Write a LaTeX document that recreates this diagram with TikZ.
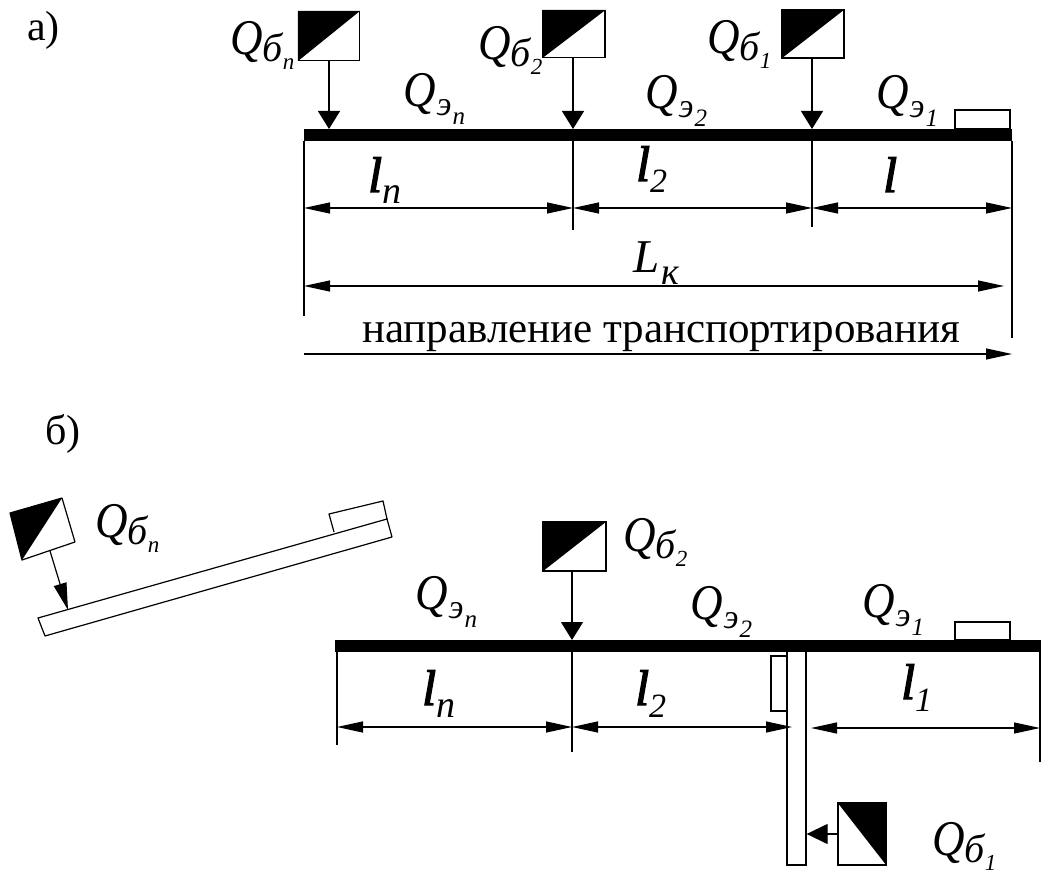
\documentclass[tikz,border=0pt]{standalone}
\usepackage{fontspec}
\setmainfont{Liberation Serif}
\usetikzlibrary{arrows.meta,calc}
\newcommand{\fsz}[1]{\fontsize{#1}{#1}\selectfont}
% big Q with subscript and second-level index
\newcommand{\QG}{\scalebox{0.9}[1]{\fsz{50}Q}}
\newcommand{\QB}[1]{\itshape\QG\raisebox{-7pt}{\fsz{40}б}\raisebox{-15pt}{\fsz{23}#1}}
\newcommand{\QE}[1]{\itshape\QG\kern1pt\raisebox{-9pt}{\fsz{34}э}\kern1pt\raisebox{-18pt}{\fsz{25}#1}}
\newcommand{\LL}[2]{\itshape{\fsz{50}\addfontfeature{FakeBold=2.5}l}\raisebox{-12pt}{\fsz{#2}#1}}
\tikzset{
  lbl/.style={inner sep=0pt,anchor=base west,text=black},
  ln/.style={draw=black,line width=1.3pt},
  dim/.style={draw=black,line width=1.2pt,{Triangle[length=26pt,width=11pt]}-{Triangle[length=26pt,width=11pt]}},
  dimr/.style={draw=black,line width=1.2pt,-{Triangle[length=26pt,width=11pt]}},
  load/.style={draw=black,line width=1.3pt,-{Triangle[length=18pt,width=22pt]}},
  barb/.style={fill=black,draw=none,inner sep=0pt,minimum height=12pt},
  box/.style={draw=black,line width=1.3pt,fill=white,inner sep=0pt},
  tilt/.style={draw=black,line width=1.2pt,fill=white,line join=round},
}
\begin{document}
\begin{tikzpicture}[x=1pt,y=-1pt]
\useasboundingbox (0,0) rectangle (1063,874);
\fill[white] (0,0) rectangle (1063,874);

% ---------- a)
\node[lbl] (capA) at (27,41) {\fsz{42}а)};
\node[barb,minimum width=708pt] (barA) at (658,135) {};
\node[box,minimum width=55pt,minimum height=19pt] (smallA) at (982.5,119.5) {};

\node[box,minimum width=61pt,minimum height=49pt] (an) at (329,36) {};
\node[box,minimum width=62pt,minimum height=47pt] (a2) at (574,34) {};
\node[box,minimum width=62pt,minimum height=48pt] (a1) at (813,34) {};
\fill[black] (an.north west) -- (an.north east) -- (an.south west) -- cycle;
\fill[black] (a2.north west) -- (a2.north east) -- (a2.south west) -- cycle;
\fill[black] (a1.north west) -- (a1.north east) -- (a1.south west) -- cycle;

\coordinate (ant) at (329,129);
\coordinate (a2t) at (573,129);
\coordinate (a1t) at (812,129);
\draw[load] (an.south -| ant) -- (ant);
\draw[load] (a2.south -| a2t) -- (a2t);
\draw[load] (a1.south -| a1t) -- (a1t);

\coordinate (aL0) at (304,141); \coordinate (aL1) at (304,316);
\coordinate (aR0) at (1012,141); \coordinate (aR1) at (1012,338);
\coordinate (a2e) at (573,230); \coordinate (a1e) at (812,227);
\draw[ln] (aL0) -- (aL1);
\draw[ln] (aR0) -- (aR1);
\draw[ln] (a2t) -- (a2e);
\draw[ln] (a1t) -- (a1e);

\coordinate (d0) at (304,208); \coordinate (d1) at (573,208);
\coordinate (d2) at (812,208); \coordinate (d3) at (1012,208);
\draw[dim] (d0) -- (d1);
\draw[dim] (d1) -- (d2);
\draw[dim] (d2) -- (d3);
\coordinate (k0) at (304,286); \coordinate (k1) at (1004,286);
\draw[dim] (k0) -- (k1);
\coordinate (t0) at (304,354); \coordinate (t1) at (1012,354);
\draw[dimr] (t0) -- (t1);

\node[lbl] (qbn) at (230,55) {\QB{n}};
\node[lbl] (qb2) at (478,60) {\QB{2}};
\node[lbl] (qb1) at (707,54) {\QB{1}};
\node[lbl] (qen) at (403,107) {\QE{n}};
\node[lbl] (qe2) at (645,109) {\QE{2}};
\node[lbl] (qe1) at (876,109) {\QE{1}};
\node[lbl] (ln) at (368,192) {\LL{n}{38}};
\node[lbl] (l2) at (636,181) {\LL{2}{34}};
\node[lbl] (l1) at (883,192) {\LL{}{34}};
\node[lbl] (lk) at (633,273) {\itshape\fsz{47}L\kern2pt\raisebox{-12pt}{\fsz{38}к}};
\node[lbl] (dir) at (362,343) {\fsz{43}направление транспортирования};

% ---------- b)
\node[lbl] (capB) at (45,445) {\fsz{42}б)};
\node[barb,minimum width=706pt] (barB) at (688,645.5) {};
\node[box,minimum width=55pt,minimum height=18pt] (smallB) at (982.5,631) {};
\node[box,minimum width=63pt,minimum height=49pt] (b2) at (574.5,546.5) {};
\fill[black] (b2.north west) -- (b2.north east) -- (b2.south west) -- cycle;
\coordinate (b2t) at (572,640);
\draw[load] (b2.south -| b2t) -- (b2t);
\coordinate (b2e) at (572,752);
\draw[ln] (b2t) -- (b2e);
\coordinate (bL0) at (337,651); \coordinate (bL1) at (337,745);
\coordinate (bR0) at (1040,651); \coordinate (bR1) at (1040,762);
\draw[ln] (bL0) -- (bL1);
\draw[ln] (bR0) -- (bR1);

% vertical (folded) conveyor
\node[box,minimum width=19pt,minimum height=214pt] (vbar) at (796.5,758) {};
\node[box,minimum width=16pt,minimum height=55pt] (vsmall) at (779,683.5) {};
\node[box,minimum width=48pt,minimum height=62pt] (b1) at (862,834) {};
\fill[black] (b1.north west) -- (b1.north east) -- (b1.south east) -- cycle;
\draw[load,-{Triangle[length=21pt,width=20pt]}] (b1.west) -- (b1.west -| vbar.east);

\coordinate (e0) at (337,727); \coordinate (e1) at (572,727);
\coordinate (e2) at (792,727); \coordinate (e3) at (811,728); \coordinate (e4) at (1040,728);
\draw[dim] (e0) -- (e1);
\draw[dim] (e1) -- (e2);
\draw[dim] (e3) -- (e4);

% tilted conveyor
\coordinate (p1) at (38,618); \coordinate (p2) at (387,519);
\coordinate (p3) at (392,537); \coordinate (p4) at (45,636);
\coordinate (s1) at (334,532); \coordinate (s2) at (329,514); \coordinate (s3) at (383,501);
\coordinate (c1) at (10,513); \coordinate (c2) at (62,498);
\coordinate (c3) at (75,542); \coordinate (c4) at (22,560);
\draw[tilt] (s1) -- (s2) -- (s3) -- (p2);
\draw[tilt] (p1) -- (p2) -- (p3) -- (p4) -- cycle;
\draw[tilt] (c1) -- (c2) -- (c3) -- (c4) -- cycle;
\fill[black] (c1) -- (c2) -- (c4) -- cycle;
\coordinate (cs) at (50,551); \coordinate (pt) at (68,610);
\draw[draw=black,line width=1.2pt,-{Triangle[length=27pt,width=13pt]}] (cs) -- (pt);

\node[lbl] (rqn) at (95,537) {\QB{n}};
\node[lbl] (rq2) at (623,551) {\QB{2}};
\node[lbl] (rq1) at (932,855) {\QB{1}};
\node[lbl] (ren) at (415,609) {\QE{n}};
\node[lbl] (re2) at (690,619) {\QE{2}};
\node[lbl] (re1) at (862,617) {\QE{1}};
\node[lbl] (rln) at (422,705) {\LL{n}{38}};
\node[lbl] (rl2) at (635,705) {\LL{2}{34}};
\node[lbl] (rl1) at (901,699) {\LL{1}{34}};
\end{tikzpicture}
\end{document}
